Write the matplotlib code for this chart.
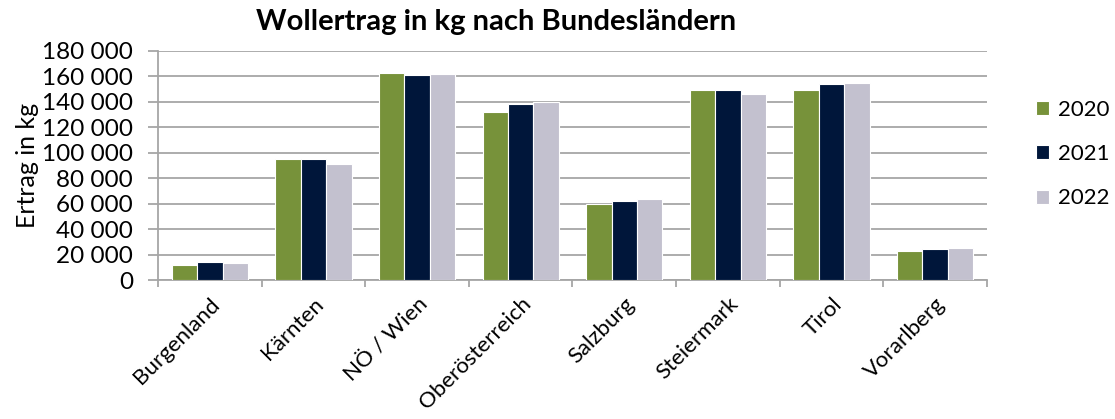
import matplotlib.pyplot as plt
import numpy as np
from matplotlib.ticker import FuncFormatter, MultipleLocator

plt.rcParams['font.family'] = ['Lato', 'DejaVu Sans']

laender = ['Burgenland', 'Kärnten', 'NÖ / Wien', 'Oberösterreich', 'Salzburg',
           'Steiermark', 'Tirol', 'Vorarlberg']
jahre = ['2020', '2021', '2022']
ertrag_2020 = [12000, 95500, 163000, 132000, 60000, 149500, 149500, 23000]
ertrag_2021 = [14000, 95000, 161000, 138000, 62000, 149500, 154000, 24000]
ertrag_2022 = [13000, 91000, 162000, 140000, 63500, 146000, 155000, 25000]
farben = ['#77923a', '#00163a', '#c3c1cf']

fig = plt.figure(figsize=(11.15, 4.19), dpi=100)
ax = fig.add_axes([0.1417, 0.3317, 0.7435, 0.5466])

x = np.arange(len(laender))
w = 0.245
for i, (werte, jahr) in enumerate(zip([ertrag_2020, ertrag_2021, ertrag_2022], jahre)):
    ax.bar(x + (i - 1) * w, werte, w, color=farben[i], label=jahr,
           edgecolor='white', linewidth=0.8, zorder=3)

ax.set_xlim(-0.5, len(laender) - 0.5)
ax.set_ylim(0, 180000)
ax.yaxis.set_major_locator(MultipleLocator(20000))
ax.yaxis.set_major_formatter(FuncFormatter(lambda v, p: f'{int(v):,}'.replace(',', ' ')))
ax.grid(axis='y', color='#a6a6a6', linewidth=1.3, zorder=0)

ax.set_xticks(x)
ax.set_xticklabels(laender, rotation=45, ha='right', rotation_mode='anchor', fontsize=16)
ax.set_xticks(np.arange(-0.5, len(laender)), minor=True)
ax.tick_params(axis='x', which='major', length=0, pad=10)
ax.tick_params(axis='x', which='minor', length=5, color='#a6a6a6', width=1.3)
ax.tick_params(axis='y', length=7, color='#a6a6a6', width=1.3, labelsize=17.5, pad=11)

for s in ['top', 'right']:
    ax.spines[s].set_visible(False)
for s in ['left', 'bottom']:
    ax.spines[s].set_color('#a6a6a6')
    ax.spines[s].set_linewidth(1.3)

ax.set_ylabel('Ertrag in kg', fontsize=18, labelpad=2)
fig.text(0.445, 0.947, 'Wollertrag in kg nach Bundesländern', ha='center', va='center',
         fontsize=21, fontweight='bold')

ax.legend(loc='center left', bbox_to_anchor=(1.035, 0.55), frameon=False, fontsize=16,
          handlelength=0.6, handleheight=0.6, handletextpad=0.4, labelspacing=1.1)

fig.savefig('out.png', dpi=100)
